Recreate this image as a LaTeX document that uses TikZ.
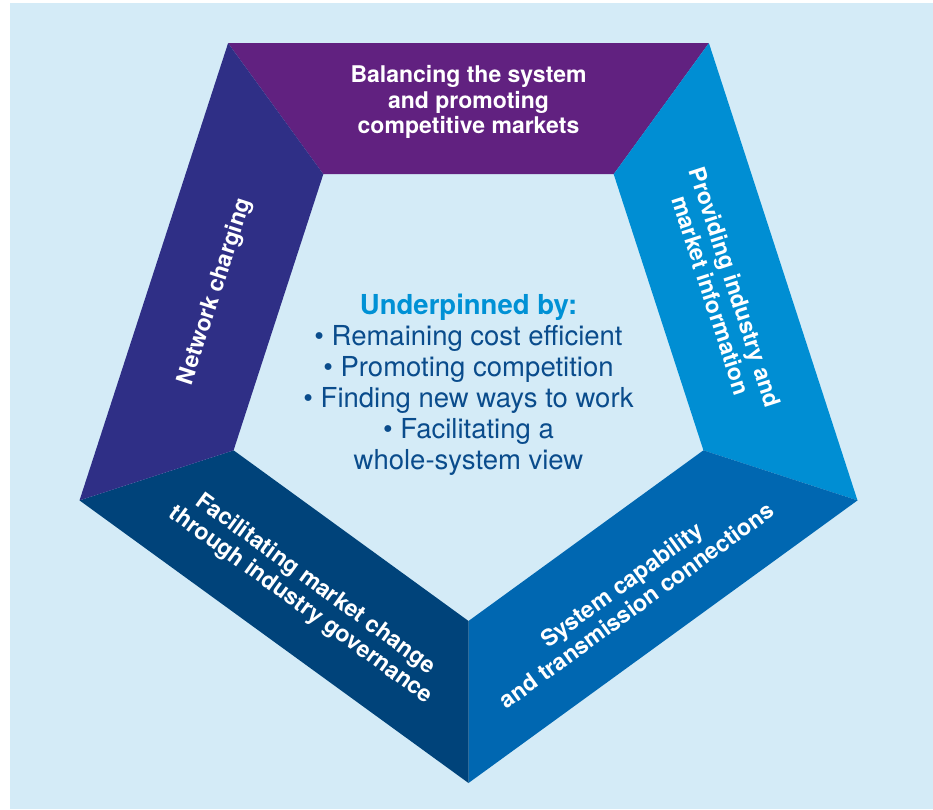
\documentclass[tikz,border=0pt]{standalone}
\usepackage{fontspec}
\setmainfont{TeX Gyre Heros}
\definecolor{paleblue}{HTML}{D4EBF7}
\definecolor{bandtop}{HTML}{612180}
\definecolor{bandright}{HTML}{008ED3}
\definecolor{bandlow}{HTML}{0067B1}
\definecolor{bandgov}{HTML}{00437A}
\definecolor{bandnet}{HTML}{2F2F86}
\definecolor{headblue}{HTML}{0091D5}
\definecolor{itemblue}{HTML}{0A4C8C}
\begin{document}
\begin{tikzpicture}[x=1pt,y=1pt,
    bandtext/.style={text=white,align=center,inner sep=1pt,
    font=\bfseries\fontsize{23}{25.5}\selectfont}]
    \fill[white] (0,0) rectangle (933,809);
    \fill[paleblue] (10,0) rectangle (933,806);
    \useasboundingbox (0,0) rectangle (933,809);

    \begin{scope}[shift={(468.5,435)}]
    \foreach \a/\b/\c in
    {126/54/bandtop,54/-18/bandright,-18/-90/bandlow,-90/-162/bandgov,198/126/bandnet}
    {\fill[\c] (\a:409) -- (\b:409) -- (\b:247) -- (\a:247) -- cycle;}

    \node[bandtext] (balancing) at (90:272)
    {Balancing the system\\and promoting\\competitive markets};
    \node[bandtext,rotate=-72] (providing) at (18:268)
    {Providing industry and\\market information};
    \node[bandtext,rotate=36] (capability) at (-54:273)
    {System capability\\and transmission connections};
    \node[bandtext,rotate=-36] (governance) at (-126:273)
    {Facilitating market change\\through industry governance};
    \node[bandtext,rotate=72] (charging) at (162:266)
    {Network charging};

    \node[align=center,text=itemblue,
    font=\fontsize{27.5}{31}\selectfont] (underpinned) at (0,-11)
    {{\color{headblue}\bfseries Underpinned by:}\\
    • Remaining cost efficient\\
    • Promoting competition\\
    • Finding new ways to work\\
    • Facilitating a\\
    whole-system view};
    \end{scope}
\end{tikzpicture}
\end{document}
